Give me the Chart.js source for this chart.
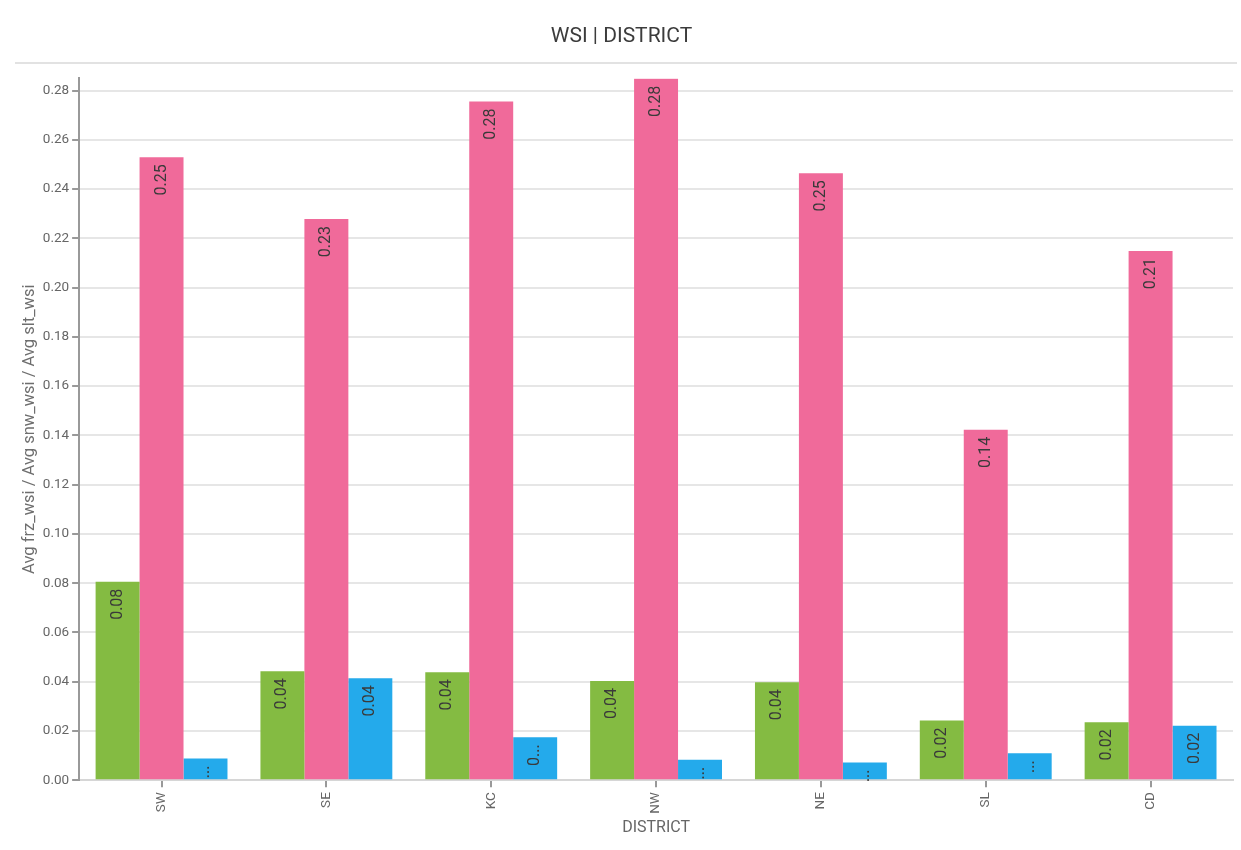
<!DOCTYPE html>
<html>
<head>
<meta charset="utf-8">
<script src="https://cdn.jsdelivr.net/npm/chart.js@4/dist/chart.umd.min.js"></script>
<style>
  html, body { margin: 0; padding: 0; background: #fff; }
  #wrap { width: 1241px; height: 850px; }
</style>
</head>
<body>
<div id="wrap"><canvas id="wsi-chart"></canvas></div>
<script>
const districts = ["SW", "SE", "KC", "NW", "NE", "SL", "CD"];
const frzWsi = [0.0806, 0.0442, 0.0438, 0.0403, 0.0398, 0.0242, 0.0235];
const snwWsi = [0.2529, 0.2278, 0.2755, 0.2848, 0.2464, 0.1423, 0.2148];
const sltWsi = [0.0088, 0.0414, 0.0174, 0.0083, 0.0072, 0.0109, 0.0221];

const font = "Roboto, 'Noto Sans', sans-serif";

// labels inside bars, rotated, cut with an ellipsis when the bar is too short
const barLabels = {
  id: "barLabels",
  afterDatasetsDraw(chart) {
    const ctx = chart.ctx;
    ctx.save();
    ctx.font = "16px " + font;
    ctx.fillStyle = "#3a3a3a";
    ctx.textAlign = "right";
    ctx.textBaseline = "middle";
    chart.data.datasets.forEach((ds, i) => {
      chart.getDatasetMeta(i).data.forEach((bar, j) => {
        let text = ds.data[j].toFixed(2);
        const h = bar.base - bar.y;
        const avail = h - 16;
        if (ctx.measureText(text).width > avail) {
          let n = text.length - 1;
          while (n > 0 && ctx.measureText(text.slice(0, n) + "...").width > avail) n--;
          text = text.slice(0, n).replace(/\.$/, "") + "...";
        }
        ctx.save();
        ctx.translate(bar.x, bar.y + 7);
        ctx.rotate(-Math.PI / 2);
        ctx.fillText(text, 0, 0);
        ctx.restore();
      });
    });
    ctx.restore();
  },
  afterDraw(chart) {
    const ctx = chart.ctx;
    ctx.save();
    ctx.strokeStyle = "#e2e2e2";
    ctx.lineWidth = 2;
    ctx.beginPath();
    ctx.moveTo(15, 63);
    ctx.lineTo(1237, 63);
    ctx.stroke();
    ctx.restore();
  }
};

const ctx = document.getElementById("wsi-chart");
new Chart(ctx, {
  type: "bar",
  data: {
    labels: districts,
    datasets: [
      { label: "Avg frz_wsi", data: frzWsi, backgroundColor: "#84bb42" },
      { label: "Avg snw_wsi", data: snwWsi, backgroundColor: "#f06a9a" },
      { label: "Avg slt_wsi", data: sltWsi, backgroundColor: "#24aaeb" },
    ],
  },
  options: {
    responsive: true,
    maintainAspectRatio: false,
    animation: false,
    layout: { padding: { left: 10, right: 8, bottom: 8 } },
    datasets: { bar: { categoryPercentage: 0.8, barPercentage: 1.0 } },
    plugins: {
      legend: { display: false },
      tooltip: { enabled: false },
      title: {
        display: true,
        text: "WSI | DISTRICT",
        color: "#3c3c3c",
        font: { family: font, size: 21, weight: "normal" },
        padding: { top: 24, bottom: 29 },
      },
    },
    scales: {
      x: {
        grid: { drawOnChartArea: false, offset: false, tickLength: 7, tickColor: "#999", lineWidth: 2 },
        border: { color: "#d6d6d6", width: 2 },
        ticks: { color: "#666", font: { family: font, size: 13.5 }, minRotation: 90, maxRotation: 90, padding: 5 },
        title: { display: true, text: "DISTRICT", color: "#666", font: { family: font, size: 16 }, padding: { top: 0 } },
      },
      y: {
        min: 0,
        max: 0.285,
        grid: { color: "#e6e6e6", lineWidth: 2, tickLength: 7, tickColor: "#999" },
        border: { color: "#999", width: 2 },
        ticks: {
          stepSize: 0.02,
          includeBounds: false,
          color: "#666",
          font: { family: font, size: 13.5 },
          padding: 3,
          callback: (v) => v.toFixed(2),
        },
        title: { display: true, text: "Avg frz_wsi / Avg snw_wsi / Avg slt_wsi", color: "#6e6e6e", font: { family: font, size: 16.5 }, padding: { top: 10, bottom: 0 } },
      },
    },
  },
  plugins: [barLabels],
});
</script>
</body>
</html>
